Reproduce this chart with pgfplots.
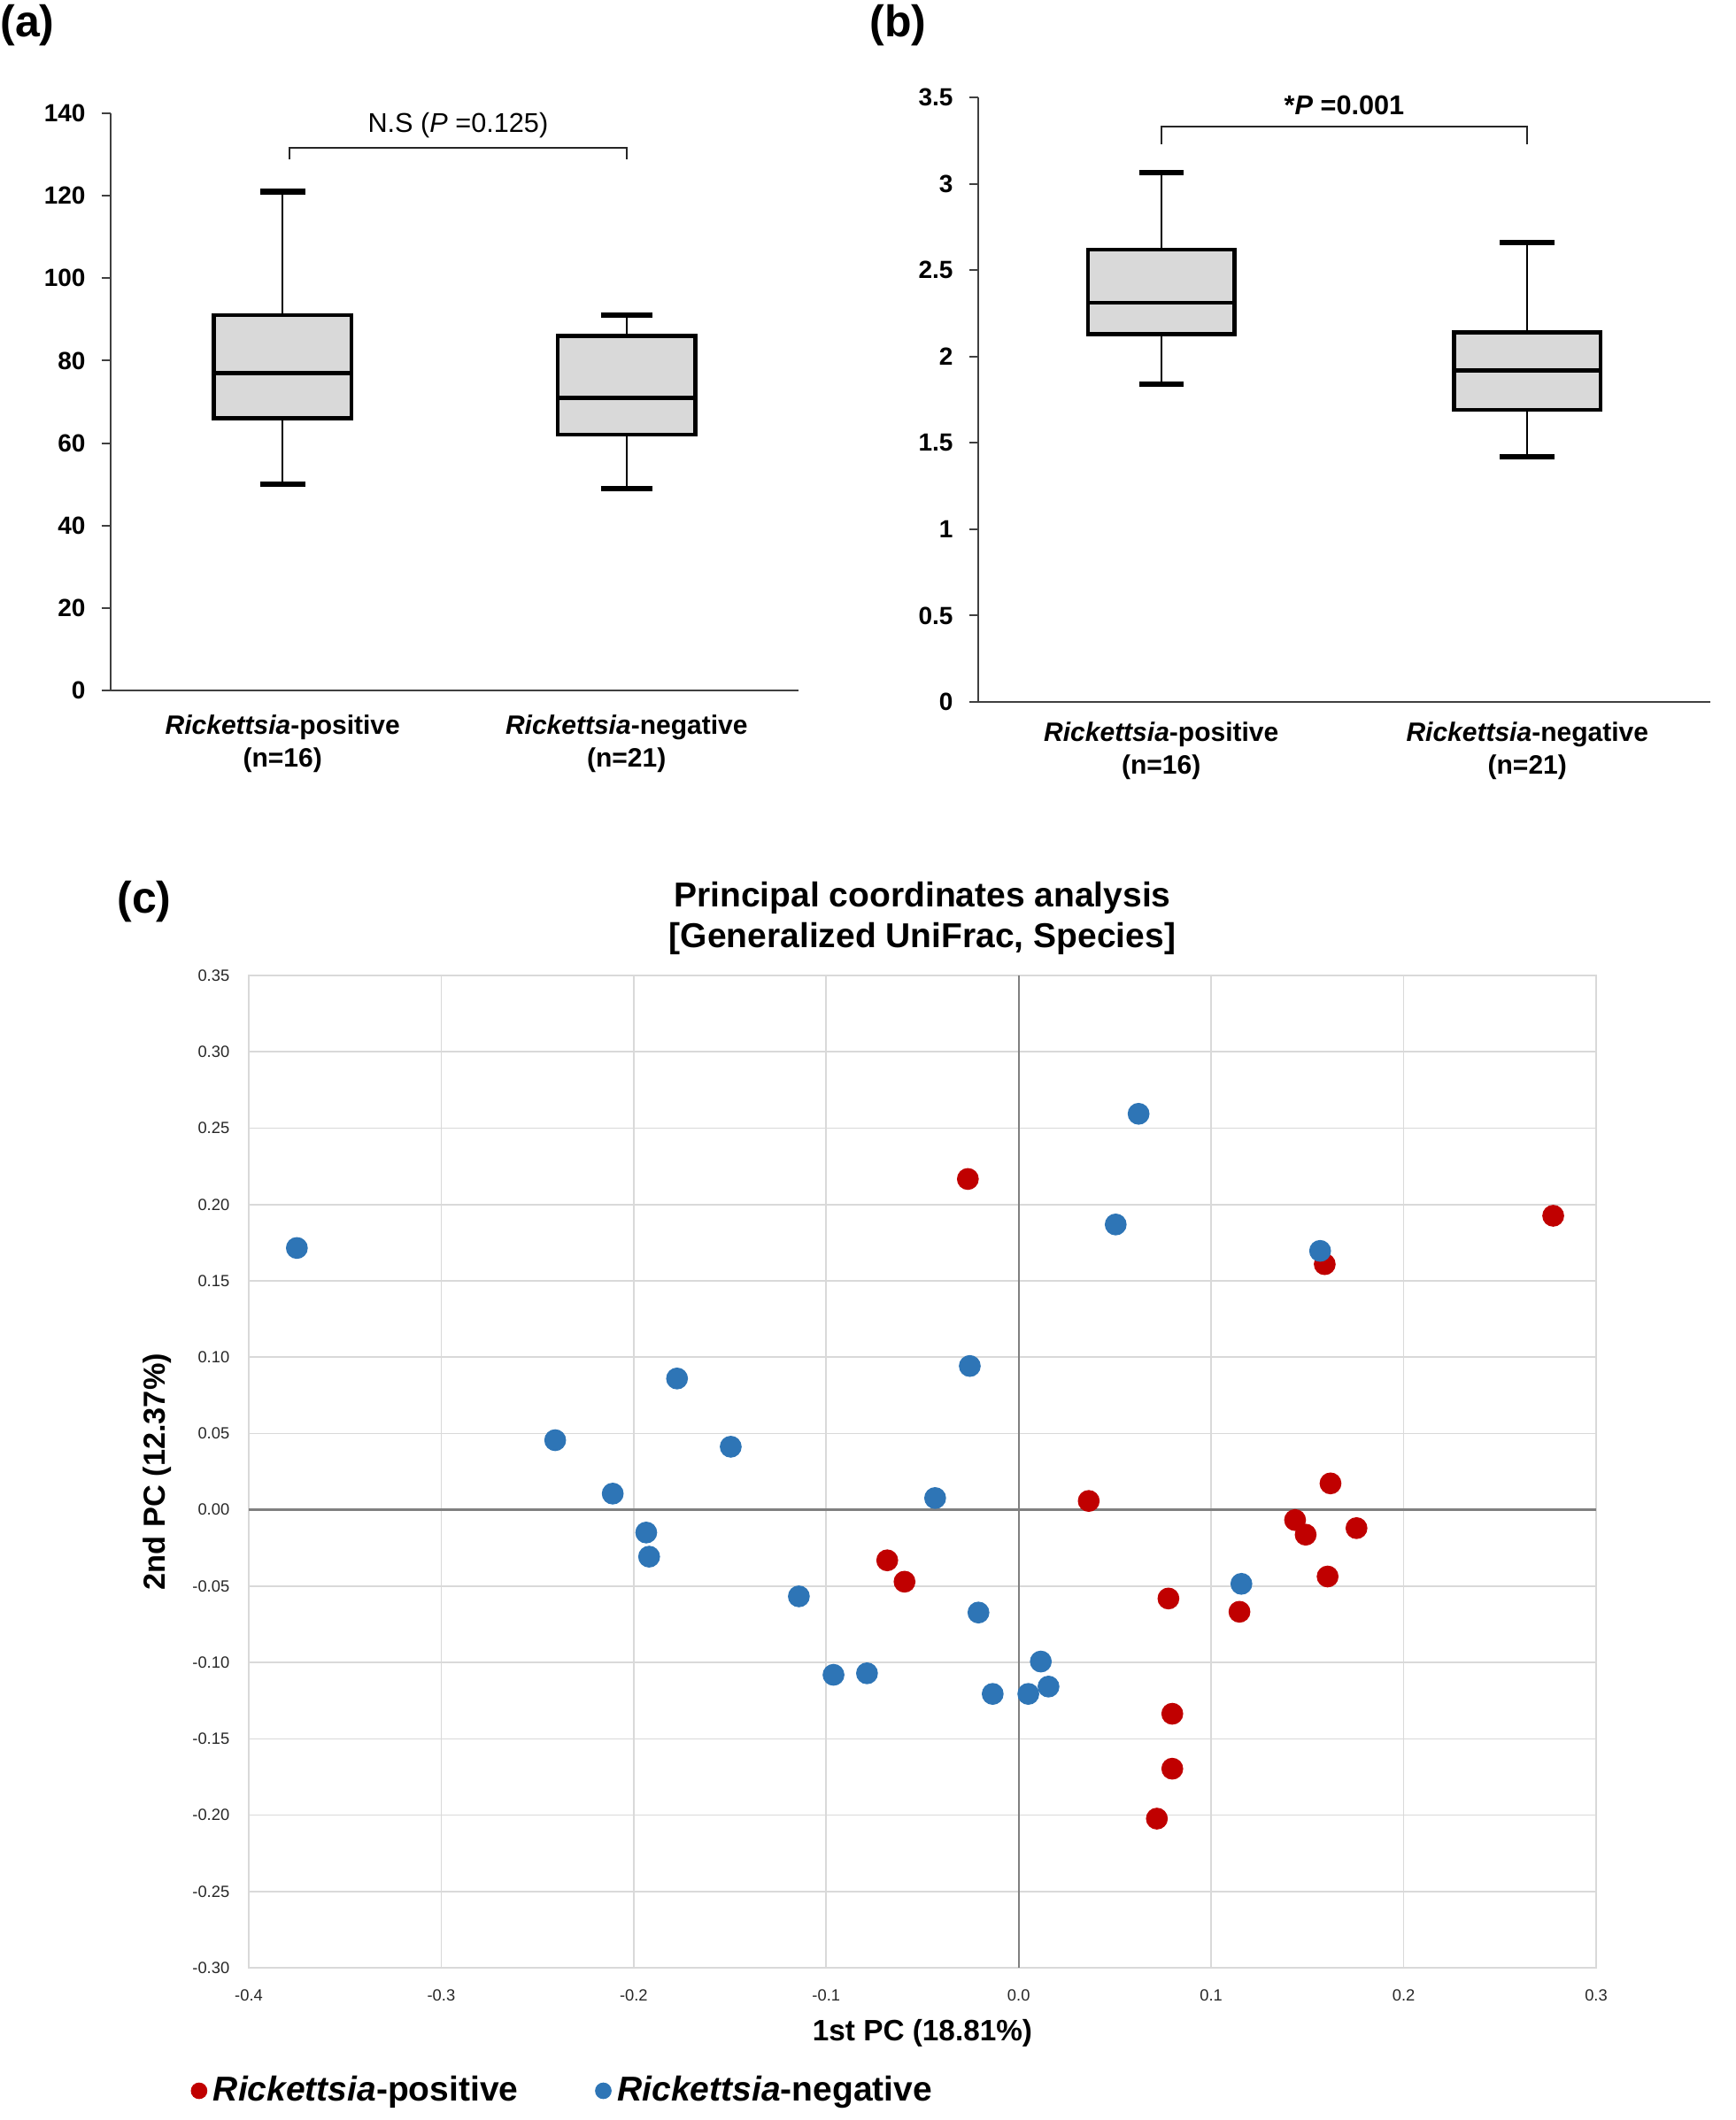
\documentclass[border=0pt]{standalone}
\usepackage{pgfplots}
\pgfplotsset{compat=1.18}
\usepackage{pgfplotstable}
\usepgfplotslibrary{statistics}
\usepackage{fontspec}
\setmainfont{Liberation Sans}

\definecolor{boxgray}{HTML}{D9D9D9}
\definecolor{posred}{HTML}{C00000}
\definecolor{negblue}{HTML}{2E75B6}

% PCoA scores
\pgfplotstableread{
x y
-0.0264 0.2167
0.2777 0.1926
0.1590 0.1609
0.1620 0.0173
0.0364 0.0058
0.1436 -0.0067
0.1491 -0.0163
0.1755 -0.0120
0.1605 -0.0437
-0.0683 -0.0331
-0.0593 -0.0471
0.0778 -0.0581
0.1147 -0.0668
0.0798 -0.1336
0.0798 -0.1696
0.0718 -0.2023
}\posdata

\pgfplotstableread{
x y
-0.3750 0.1715
0.0623 0.2594
0.0504 0.1869
0.1566 0.1696
-0.1775 0.0860
-0.0254 0.0942
-0.2408 0.0456
-0.1496 0.0413
-0.2109 0.0106
-0.0434 0.0077
-0.1935 -0.0149
-0.1920 -0.0307
-0.1142 -0.0567
-0.0209 -0.0673
0.1157 -0.0485
0.0115 -0.0994
0.0155 -0.1158
0.0050 -0.1206
-0.0135 -0.1206
-0.0788 -0.1071
-0.0962 -0.1081
}\negdata

\pgfplotsset{
  mybox/.style={
    draw=black, fill=boxgray, line width=1.3pt,
    boxplot/draw direction=y,
    boxplot/draw/lower whisker/.code={%
      \draw[line width=0.6pt]
        (boxplot whisker cs:\pgfplotsboxplotvalue{lower whisker},0.5) --
        (boxplot whisker cs:\pgfplotsboxplotvalue{lower quartile},0.5);
      \draw[line width=1.9pt]
        (boxplot whisker cs:\pgfplotsboxplotvalue{lower whisker},0) --
        (boxplot whisker cs:\pgfplotsboxplotvalue{lower whisker},1);
    },
    boxplot/draw/upper whisker/.code={%
      \draw[line width=0.6pt]
        (boxplot whisker cs:\pgfplotsboxplotvalue{upper whisker},0.5) --
        (boxplot whisker cs:\pgfplotsboxplotvalue{upper quartile},0.5);
      \draw[line width=1.9pt]
        (boxplot whisker cs:\pgfplotsboxplotvalue{upper whisker},0) --
        (boxplot whisker cs:\pgfplotsboxplotvalue{upper whisker},1);
    },
  },
  boxaxis/.style={
    scale only axis, anchor=south west,
    xmin=0.5, xmax=2.5, ymin=0,
    axis x line=bottom, axis y line=left,
    axis line style={-, draw=black!75, line width=0.6pt},
    xtick={1,2},
    x tick style={draw=none},
    y tick style={draw=black!75, line width=0.6pt},
    tick align=outside, major tick length=3pt,
    /pgf/number format/assume math mode=true,
    yticklabel style={font=\bfseries\fontsize{8.4}{10}\selectfont, xshift=-2pt},
    xticklabel style={align=center, font=\bfseries\fontsize{9}{11.2}\selectfont},
    xticklabels={{\textit{Rickettsia}-positive\\(n=16)},{\textit{Rickettsia}-negative\\(n=21)}},
    clip=false,
  },
}

\begin{document}
\begin{tikzpicture}
\useasboundingbox (0,0) rectangle (588.3pt,-718.5pt);

\node[font=\bfseries\fontsize{15}{18}\selectfont] at (9.3pt,-8.7pt) {(a)};
\node[font=\bfseries\fontsize{15}{18}\selectfont] at (304.4pt,-8.7pt) {(b)};
\node[font=\bfseries\fontsize{15}{18}\selectfont] at (48.9pt,-305.7pt) {(c)};

% (a)
\begin{axis}[boxaxis,
  at={(37.5pt,-234pt)}, width=233.1pt, height=195.6pt,
  ymax=140, ytick={0,20,40,60,80,100,120,140},
  xticklabel style={yshift=-1.8pt},
]
\addplot[mybox, boxplot prepared={draw position=1, lower whisker=50, lower quartile=66,
  median=77, upper quartile=91, upper whisker=121, box extend=0.4, whisker extend=0.13}]
  coordinates {};
\addplot[mybox, boxplot prepared={draw position=2, lower whisker=49, lower quartile=62,
  median=71, upper quartile=86, upper whisker=91, box extend=0.4, whisker extend=0.15}]
  coordinates {};
\addplot[black!85, line width=0.6pt] coordinates {(1.02,128.8) (1.02,131.6) (2,131.6) (2,128.8)};
\node[font=\fontsize{9.2}{11}\selectfont] at (axis cs:1.51,137) {N.S (\textit{P} =0.125)};
\end{axis}

% (b)
\begin{axis}[boxaxis,
  at={(331.5pt,-237.9pt)}, width=248.1pt, height=204.9pt,
  ymax=3.5, ytick={0,0.5,1,1.5,2,2.5,3,3.5},
  xticklabel style={yshift=-0.3pt},
]
\addplot[mybox, boxplot prepared={draw position=1, lower whisker=1.84, lower quartile=2.13,
  median=2.31, upper quartile=2.62, upper whisker=3.065, box extend=0.4, whisker extend=0.12}]
  coordinates {};
\addplot[mybox, boxplot prepared={draw position=2, lower whisker=1.42, lower quartile=1.69,
  median=1.92, upper quartile=2.14, upper whisker=2.66, box extend=0.4, whisker extend=0.15}]
  coordinates {};
\addplot[black!85, line width=0.6pt] coordinates {(1,3.23) (1,3.33) (2,3.33) (2,3.23)};
\node[font=\bfseries\fontsize{9.2}{11}\selectfont] at (axis cs:1.5,3.453) {*\textit{P} =0.001};
\end{axis}

% (c)
\begin{axis}[
  at={(84.3pt,-666.9pt)}, anchor=south west,
  scale only axis, width=456.6pt, height=336.3pt,
  xmin=-0.4, xmax=0.3, ymin=-0.3, ymax=0.35,
  xtick={-0.4,-0.3,-0.2,-0.1,0,0.1,0.2,0.3},
  ytick={-0.3,-0.25,-0.2,-0.15,-0.1,-0.05,0,0.05,0.1,0.15,0.2,0.25,0.3,0.35},
  scaled ticks=false,
  grid=major,
  major grid style={draw=black!15, line width=0.5pt},
  axis line style={draw=black!15, line width=0.5pt},
  tick style={draw=none},
  extra x ticks={0}, extra y ticks={0},
  extra x tick labels={}, extra y tick labels={},
  extra tick style={grid=major, major grid style={draw=black!50, line width=0.7pt}},
  /pgf/number format/assume math mode=true,
  ticklabel style={font=\fontsize{5.5}{6.5}\selectfont, text=black!85},
  xticklabel style={/pgf/number format/fixed, /pgf/number format/fixed zerofill,
    /pgf/number format/precision=1, yshift=-4pt},
  yticklabel style={/pgf/number format/fixed, /pgf/number format/fixed zerofill,
    /pgf/number format/precision=2, xshift=-3pt},
  title={Principal coordinates analysis\\ {[}Generalized UniFrac, Species{]}},
  title style={at={(axis description cs:0.5,1)}, anchor=south, yshift=-2.6pt,
    align=center, font=\bfseries\fontsize{11.7}{13.8}\selectfont},
  xlabel={1st PC (18.81\%)},
  ylabel={2nd PC (12.37\%)},
  xlabel style={at={(axis description cs:0.5,-0.066)}, anchor=center,
    font=\bfseries\fontsize{10}{12}\selectfont},
  ylabel style={at={(axis description cs:-0.068,0.5)}, anchor=center, rotate=0,
    font=\bfseries\fontsize{10.3}{12}\selectfont},
  legend columns=2,
  legend style={at={(axis description cs:-0.05,-0.124)}, anchor=west, draw=none, fill=none,
    font=\bfseries\fontsize{11.7}{14}\selectfont,
    /tikz/every even column/.append style={column sep=24pt}},
  legend image code/.code={\fill (0.1cm,0cm) circle (2.6pt);},
  clip=false,
]
\addplot[only marks, mark=*, mark size=3.5pt, color=posred, mark options={fill=posred, draw=posred}]
  table[x=x, y=y] {\posdata};
\addlegendentry{\textit{Rickettsia}-positive}
\addplot[only marks, mark=*, mark size=3.5pt, color=negblue, mark options={fill=negblue, draw=negblue}]
  table[x=x, y=y] {\negdata};
\addlegendentry{\textit{Rickettsia}-negative}
\end{axis}
\end{tikzpicture}
\end{document}
